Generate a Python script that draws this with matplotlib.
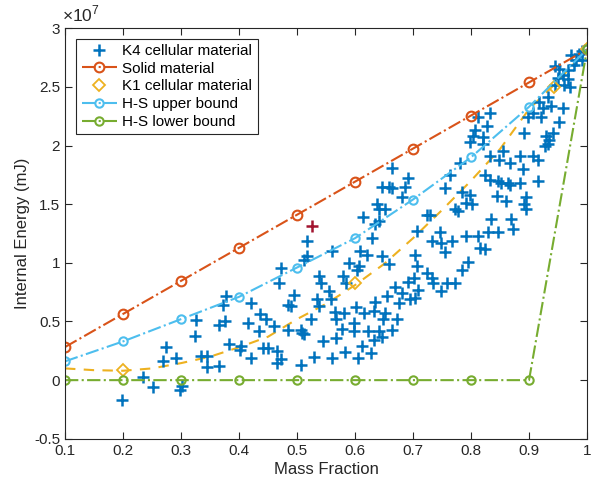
import numpy as np
import matplotlib.pyplot as plt

plt.rcParams['font.family'] = ['Liberation Sans', 'DejaVu Sans']
plt.rcParams['mathtext.fontset'] = 'custom'
plt.rcParams['mathtext.rm'] = 'Liberation Sans'

# all energies in units of 1e7 mJ
mass = [0.1, 0.2, 0.3, 0.4, 0.5, 0.6, 0.7, 0.8, 0.9, 1.0]
solid = [0.282, 0.564, 0.846, 1.128, 1.41, 1.692, 1.974, 2.256, 2.538, 2.82]
hs_upper = [0.16, 0.33, 0.52, 0.71, 0.96, 1.21, 1.54, 1.90, 2.33, 2.82]
hs_lower = [0, 0, 0, 0, 0, 0, 0, 0, 0, 2.82]

# K1 cellular material samples and fitted trend
k1_mass = [0.2, 0.6, 0.943, 1.0]
k1_energy = [0.09, 0.83, 2.50, 2.82]
k1_fit_mass = [0.1, 0.15, 0.2, 0.25, 0.3, 0.35, 0.4, 0.45, 0.5, 0.55,
               0.6, 0.65, 0.7, 0.75, 0.8, 0.85, 0.9, 0.95, 1.0]
k1_fit_energy = [0.10, 0.085, 0.08, 0.10, 0.145, 0.20, 0.28, 0.37, 0.52, 0.65,
                 0.81, 0.99, 1.21, 1.45, 1.70, 1.97, 2.31, 2.55, 2.82]

# K4 cellular material samples
k4_mass = [
    0.378, 0.373, 0.421, 0.326, 0.375, 0.365, 0.416, 0.436, 0.435, 0.324,
    0.382, 0.404, 0.274, 0.269, 0.291, 0.335, 0.344, 0.345, 0.366, 0.421,
    0.235, 0.252, 0.301, 0.298, 0.199, 0.401, 0.441,
    0.518, 0.518, 0.512, 0.561, 0.629, 0.635, 0.609, 0.621, 0.647, 0.658,
    0.707, 0.704, 0.707, 0.724, 0.473, 0.469, 0.495, 0.484, 0.489, 0.446,
    0.460, 0.485, 0.507, 0.509, 0.512, 0.524, 0.544, 0.568, 0.450, 0.466,
    0.473, 0.465, 0.507, 0.529, 0.561, 0.582, 0.605, 0.612, 0.628, 0.538,
    0.542, 0.535, 0.538, 0.555, 0.558, 0.580, 0.584, 0.589, 0.607, 0.604,
    0.565, 0.568, 0.581, 0.578, 0.601, 0.615, 0.598, 0.599, 0.622, 0.632,
    0.635, 0.652, 0.655, 0.649, 0.641, 0.664, 0.672, 0.669, 0.675, 0.681,
    0.692, 0.701, 0.695, 0.704, 0.709, 0.646, 0.632,
    0.747, 0.749, 0.755, 0.767, 0.732, 0.792, 0.812, 0.830, 0.847, 0.872,
    0.815, 0.824, 0.795, 0.784, 0.732, 0.735, 0.758, 0.772, 0.749,
    0.664, 0.647, 0.658, 0.664, 0.692, 0.687, 0.681, 0.638, 0.641, 0.652,
    0.614, 0.724, 0.641,
    0.812, 0.832, 0.827, 0.807, 0.804, 0.821, 0.798, 0.821, 0.832, 0.849,
    0.855, 0.867, 0.884, 0.890, 0.907, 0.915, 0.824, 0.832, 0.847, 0.852,
    0.864, 0.867, 0.884, 0.915, 0.844, 0.861, 0.895, 0.892, 0.895, 0.835,
    0.869, 0.784, 0.798, 0.801, 0.792, 0.772, 0.778, 0.781, 0.764, 0.755,
    0.730, 0.918, 0.924, 0.938, 0.958, 0.952, 0.921, 0.892, 0.930, 0.935,
    0.941, 0.927, 0.932, 0.898, 0.907, 0.944, 0.961, 0.970, 0.958, 0.952,
    0.944, 0.967, 0.978, 0.972, 0.987, 0.992, 0.950, 0.981, 0.992, 0.967,
    0.932]
k4_energy = [
    0.72, 0.64, 0.66, 0.51, 0.50, 0.47, 0.49, 0.56, 0.42, 0.38,
    0.31, 0.29, 0.28, 0.16, 0.19, 0.21, 0.21, 0.11, 0.12, 0.19,
    0.03, -0.06, -0.05, -0.08, -0.17, 0.26, 0.27,
    1.19, 1.06, 1.02, 1.10, 1.21, 1.33, 1.10, 1.07, 1.06, 0.99,
    1.27, 1.07, 0.97, 0.91, 0.96, 0.83, 0.73, 0.64, 0.63, 0.52,
    0.46, 0.43, 0.43, 0.40, 0.39, 0.52, 0.33, 0.36, 0.27, 0.25,
    0.18, 0.15, 0.13, 0.20, 0.19, 0.24, 0.19, 0.29, 0.23, 0.89,
    0.83, 0.69, 0.63, 0.76, 0.69, 0.89, 0.83, 1.00, 0.97, 0.94,
    0.58, 0.52, 0.57, 0.44, 0.62, 0.57, 0.49, 0.42, 0.42, 0.59,
    0.67, 0.57, 0.72, 0.52, 0.42, 0.43, 0.52, 0.79, 0.66, 0.74,
    0.84, 0.87, 0.69, 0.70, 0.77, 0.37, 0.34,
    1.26, 1.17, 1.09, 1.19, 1.19, 1.23, 1.23, 1.26, 1.26, 1.29,
    1.13, 1.12, 1.01, 0.94, 0.87, 0.83, 0.83, 0.83, 0.76,
    1.81, 1.65, 1.65, 1.64, 1.72, 1.65, 1.56, 1.50, 1.46, 1.46,
    1.39, 1.41, 1.36,
    2.24, 2.28, 2.17, 2.13, 2.08, 2.07, 2.03, 2.01, 1.91, 1.88,
    1.95, 1.85, 1.91, 1.80, 1.91, 1.88, 1.75, 1.71, 1.70, 1.68,
    1.68, 1.66, 1.68, 1.70, 1.57, 1.53, 1.56, 1.50, 1.46, 1.37,
    1.37, 1.60, 1.58, 1.50, 1.51, 1.46, 1.44, 1.85, 1.75, 1.64,
    1.41, 2.37, 2.32, 2.34, 2.32, 2.20, 2.24, 2.11, 2.08, 2.05,
    2.11, 2.00, 2.01, 2.24, 2.28, 2.52, 2.52, 2.50, 2.60, 2.65,
    2.68, 2.64, 2.69, 2.77, 2.78, 2.81, 2.58, 2.73, 2.73, 2.57,
    2.41]

# highlighted sample
red_mass = [0.525]
red_energy = [1.31]

blue = '#0072BD'
orange = '#D95319'
yellow = '#EDB120'
cyan = '#4DBEEE'
green = '#77AC30'
dark_red = '#A2142F'
axcol = '#262626'

fig = plt.figure(figsize=(5.92, 4.87), dpi=100)
ax = fig.add_axes([0.1098, 0.099, 0.8818, 0.843])

ax.plot(k1_fit_mass, k1_fit_energy, '--', color=yellow, lw=1.5, dashes=(5, 4))
ax.plot(k4_mass, k4_energy, '+', color=blue, ms=8, mew=1.8, ls='none',
        label='K4 cellular material')
ax.plot(red_mass, red_energy, '+', color=dark_red, ms=8, mew=1.8, ls='none')
ax.plot(mass, solid, '-.o', color=orange, lw=1.5, ms=7, mew=1.5, mfc='none',
        label='Solid material')
ax.plot(k1_mass, k1_energy, 'D', color=yellow, ms=6, mew=1.3, mfc='none', ls='none',
        label='K1 cellular material')
ax.plot(mass, hs_upper, '-.o', color=cyan, lw=1.5, ms=6, mew=1.5, mfc='none',
        label='H-S upper bound')
ax.plot(mass, hs_lower, '-.o', color=green, lw=1.5, ms=6, mew=1.5, mfc='none',
        label='H-S lower bound')

ax.set_xlim(0.1, 1.0)
ax.set_ylim(-0.5, 3.0)
ax.set_xticks([0.1, 0.2, 0.3, 0.4, 0.5, 0.6, 0.7, 0.8, 0.9, 1.0])
ax.set_xticklabels(['0.1', '0.2', '0.3', '0.4', '0.5', '0.6', '0.7', '0.8', '0.9', '1'])
ax.set_yticks([-0.5, 0, 0.5, 1, 1.5, 2, 2.5, 3])
ax.set_yticklabels(['-0.5', '0', '0.5', '1', '1.5', '2', '2.5', '3'])
ax.tick_params(direction='in', top=True, right=True, length=5, width=0.8,
               labelsize=11, colors=axcol)
for s in ax.spines.values():
    s.set_color(axcol)
    s.set_linewidth(0.8)

ax.set_xlabel('Mass Fraction', fontsize=12, color=axcol, labelpad=3)
ax.set_ylabel('Internal Energy (mJ)', fontsize=12, color=axcol, labelpad=3)
ax.text(-0.005, 1.01, r'$\times10^{7}$', transform=ax.transAxes, fontsize=12.5,
        color=axcol, ha='left', va='bottom')

leg = ax.legend(loc='upper left', bbox_to_anchor=(0.022, 0.975), borderaxespad=0,
                fontsize=11, fancybox=False, framealpha=1, handlelength=2.3,
                labelspacing=0.25, borderpad=0.35, handletextpad=0.35)
leg.get_frame().set_edgecolor(axcol)
leg.get_frame().set_linewidth(0.8)

plt.savefig('out.png', dpi=100)
